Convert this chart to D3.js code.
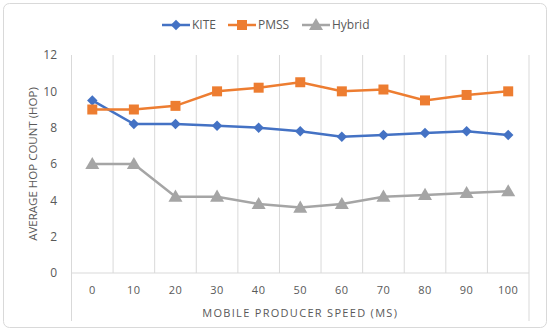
<!DOCTYPE html>
<html><head><meta charset="utf-8">
<script src="https://cdn.jsdelivr.net/npm/d3@7"></script>
<style>body{margin:0;background:#fff}svg{display:block}text{font-family:"Open Sans","Noto Sans",sans-serif;fill:#595959}</style>
</head><body><svg id="c" width="550" height="332"></svg>
<script>
const categories = ["0","10","20","30","40","50","60","70","80","90","100"];
const kite = [9.5, 8.2, 8.2, 8.1, 8.0, 7.8, 7.5, 7.6, 7.7, 7.8, 7.6];
const pmss = [9.0, 9.0, 9.2, 10.0, 10.2, 10.5, 10.0, 10.1, 9.5, 9.8, 10.0];
const hybrid = [6.0, 6.0, 4.2, 4.2, 3.8, 3.6, 3.8, 4.2, 4.3, 4.4, 4.5];
const yTicks = [0, 2, 4, 6, 8, 10, 12];
const seriesNames = ["KITE", "PMSS", "Hybrid"];
const colors = ["#4472C4", "#ED7D31", "#A5A5A5"];
const symbols = [d3.symbolSquare, d3.symbolSquare, d3.symbolTriangle];

const svg = d3.select("#c");
svg.append("rect").attr("x",3.5).attr("y",3.5).attr("width",543).attr("height",324).attr("rx",6)
  .attr("fill","#fff").attr("stroke","#d9d9d9");

const L = 71.5, R = 529, T = 55, B = 273;
const x = d3.scaleBand().domain(categories).range([L, R]);
const y = d3.scaleLinear().domain([0, 12]).range([B, T]);

// vertical gridlines at band boundaries
const bounds = categories.map(c => x(c)).concat([R]);
svg.append("g").selectAll("line").data(bounds).join("line")
  .attr("x1", d => d).attr("x2", d => d).attr("y1", T)
  .attr("y2", (d,i) => (i===0 || i===bounds.length-1) ? 321 : B)
  .attr("stroke", "#d9d9d9").attr("stroke-width", 1);
svg.append("line").attr("x1", L).attr("x2", R).attr("y1", B).attr("y2", B).attr("stroke", "#d9d9d9");

// y tick labels
svg.append("g").selectAll("text").data(yTicks).join("text")
  .attr("x", 57).attr("y", d => y(d)).attr("dy", "0.35em").attr("text-anchor", "end")
  .attr("font-size", 12).text(d => d);
// x tick labels
svg.append("g").selectAll("text").data(categories).join("text")
  .attr("x", d => x(d) + x.bandwidth()/2).attr("y", 290).attr("dy","0.35em").attr("text-anchor", "middle")
  .attr("font-size", 11).attr("letter-spacing", "0.5px").text(d => d);

svg.append("text").attr("x", (L+R)/2).attr("y", 313).attr("dy","0.35em").attr("text-anchor","middle")
  .attr("font-size", 11).attr("letter-spacing", "1.3px").text("MOBILE PRODUCER SPEED (MS)");
svg.append("text").attr("transform", "translate(33,164) rotate(-90)").attr("dy","0.35em").attr("text-anchor","middle")
  .attr("font-size", 11.5).text("AVERAGE HOP COUNT (HOP)");

const data = [kite, pmss, hybrid];
const sizes = [55, 100, 85];
const line = d3.line().x((d,i) => x(categories[i]) + x.bandwidth()/2).y(d => y(d));
data.forEach((s, k) => {
  svg.append("path").datum(s).attr("d", line).attr("fill","none").attr("stroke", colors[k]).attr("stroke-width", 2.5);
  svg.append("g").selectAll("path").data(s).join("path")
    .attr("transform", (d,i) => `translate(${x(categories[i]) + x.bandwidth()/2},${y(d) + (k===2?1:0)})${k===0?" rotate(45)":""}`)
    .attr("d", d3.symbol().type(symbols[k]).size(sizes[k]))
    .attr("fill", colors[k]);
});

// legend
const legX = [162, 228, 302];
seriesNames.forEach((n, k) => {
  const g = svg.append("g").attr("transform", `translate(${legX[k]},25)`);
  g.append("line").attr("x1",0).attr("x2",28).attr("stroke",colors[k]).attr("stroke-width",2.5);
  g.append("path").attr("transform", `translate(14,${k===2?1:0})${k===0?" rotate(45)":""}`)
    .attr("d", d3.symbol().type(symbols[k]).size(sizes[k])).attr("fill", colors[k]);
  g.append("text").attr("x", 30).attr("dy","0.35em").attr("font-size", 12).text(n);
});
</script></body></html>
